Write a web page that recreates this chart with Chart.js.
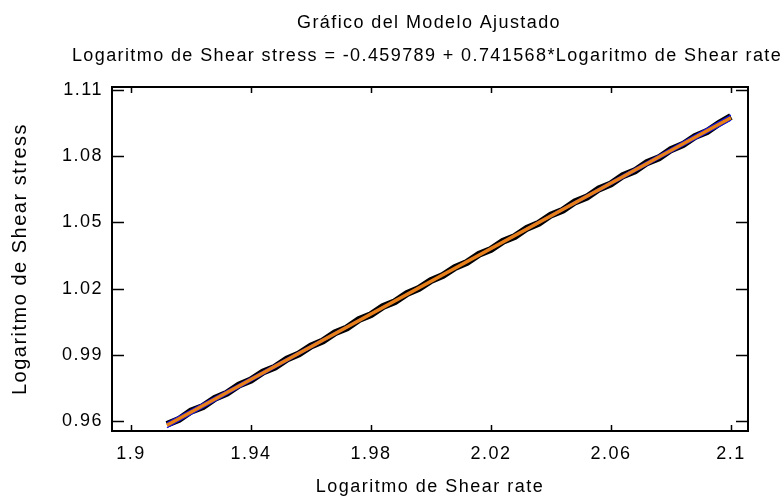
<!DOCTYPE html>
<html><head><meta charset="utf-8">
<script src="https://cdn.jsdelivr.net/npm/chart.js@4/dist/chart.umd.min.js"></script>
<style>html,body{margin:0;padding:0;background:#fff}#wrap{width:784px;height:498px}</style>
</head><body><div id="wrap"><canvas id="c" width="784" height="498"></canvas></div>
<script>
// Observed data (Logaritmo de Shear rate vs Logaritmo de Shear stress)
const shearRate = [1.912,1.916,1.920,1.924,1.928,1.932,1.936,1.940,1.944,1.948,1.952,1.956,1.960,1.964,1.968,1.972,1.976,1.980,1.984,1.988,1.992,1.996,2.000,2.004,2.008,2.012,2.016,2.020,2.024,2.028,2.032,2.036,2.040,2.044,2.048,2.052,2.056,2.060,2.064,2.068,2.072,2.076,2.080,2.084,2.088,2.092,2.096,2.100];
const shearStress = [0.9585,0.9607,0.9645,0.9666,0.9703,0.9726,0.9763,0.9786,0.9822,0.9844,0.9881,0.9904,0.9940,0.9963,1.0000,1.0022,1.0060,1.0082,1.0119,1.0141,1.0178,1.0201,1.0237,1.0260,1.0296,1.0319,1.0356,1.0378,1.0415,1.0437,1.0474,1.0497,1.0534,1.0556,1.0593,1.0615,1.0652,1.0675,1.0712,1.0734,1.0771,1.0793,1.0830,1.0853,1.0889,1.0912,1.0949,1.0980];
// Fitted model line
const fitRate = [1.912, 2.100];
const fitStress = [0.95809, 1.09750];
// Limits around the fitted line
const limitRate = [1.912, 1.959, 2.006, 2.053, 2.100];
const upperStress = [0.95924, 0.99354, 1.02810, 1.06325, 1.09865];
const lowerStress = [0.95694, 0.99234, 1.02750, 1.06205, 1.09635];
// Axes
const xTicks = [1.9, 1.94, 1.98, 2.02, 2.06, 2.1];
const xTickLabels = ['1.9', '1.94', '1.98', '2.02', '2.06', '2.1'];
const yTicks = [0.96, 0.99, 1.02, 1.05, 1.08, 1.11];
const yTickLabels = ['0.96', '0.99', '1.02', '1.05', '1.08', '1.11'];
const titleText = 'Gráfico del Modelo Ajustado';
const subtitleText = 'Logaritmo de Shear stress = -0.459789 + 0.741568*Logaritmo de Shear rate';
const xTitle = 'Logaritmo de Shear rate';
const yTitle = 'Logaritmo de Shear stress';

const FONT = '"Liberation Sans", Arial, sans-serif';
const pts = (xs, ys) => xs.map((x, i) => ({x: x, y: ys[i]}));

const framePlugin = {
  id: 'frame',
  beforeDraw(chart) { chart.ctx.letterSpacing = '1.5px'; },
  afterDraw(chart) {
    const ctx = chart.ctx, a = chart.chartArea;
    const xs = chart.scales.x, ys = chart.scales.y;
    ctx.save();
    ctx.strokeStyle = '#000';
    ctx.lineWidth = 2;
    ctx.strokeRect(a.left, a.top, a.right - a.left, a.bottom - a.top);
    ctx.lineWidth = 1.5;
    ctx.beginPath();
    xTicks.forEach(v => {
      const px = Math.round(xs.getPixelForValue(v)) + 0.5;
      ctx.moveTo(px, a.bottom); ctx.lineTo(px, a.bottom - 6);
      ctx.moveTo(px, a.top); ctx.lineTo(px, a.top + 6);
    });
    yTicks.forEach(v => {
      const py = Math.round(ys.getPixelForValue(v)) + 0.5;
      ctx.moveTo(a.left, py); ctx.lineTo(a.left + 12, py);
      ctx.moveTo(a.right, py); ctx.lineTo(a.right - 12, py);
    });
    ctx.stroke();
    ctx.fillStyle = '#000';
    ctx.font = '18px ' + FONT;
    ctx.textAlign = 'center';
    ctx.textBaseline = 'alphabetic';
    ctx.letterSpacing = '1.4px';
    ctx.fillText(titleText, 429, 28);
    ctx.fillText(subtitleText, 427, 61);
    ctx.restore();
  }
};

new Chart(document.getElementById('c'), {
  type: 'scatter',
  data: {
    datasets: [
      {label: 'Modelo', data: pts(fitRate, fitStress), showLine: true, borderColor: '#E8801A', borderWidth: 3.5, pointRadius: 0, fill: false},
      {label: 'Superior', data: pts(limitRate, upperStress), showLine: true, borderColor: '#1010F0', borderWidth: 1.2, pointRadius: 0, fill: false, tension: 0.3},
      {label: 'Inferior', data: pts(limitRate, lowerStress), showLine: true, borderColor: '#1010F0', borderWidth: 1.2, pointRadius: 0, fill: false, tension: 0.3},
      {label: 'Datos', data: pts(shearRate, shearStress), showLine: true, borderColor: '#000', borderWidth: 7, pointRadius: 0, fill: false}
    ]
  },
  options: {
    responsive: false,
    animation: false,
    devicePixelRatio: 1,
    layout: {padding: {left: 0, top: 87, right: 36, bottom: 0}},
    plugins: {legend: {display: false}, tooltip: {enabled: false}, title: {display: false}},
    scales: {
      x: {
        type: 'linear', min: 1.8937, max: 2.1057,
        afterBuildTicks: s => { s.ticks = xTicks.map(v => ({value: v})); },
        afterFit: s => { s.height = 67; },
        ticks: {callback: (v, i) => xTickLabels[i], font: {family: FONT, size: 18}, color: '#000', padding: 12, maxRotation: 0, autoSkip: false},
        grid: {display: false, drawTicks: false},
        border: {display: false},
        title: {display: true, text: xTitle, font: {family: FONT, size: 18}, color: '#000', padding: {top: 0, bottom: 0}}
      },
      y: {
        type: 'linear', min: 0.9555, max: 1.1114,
        afterBuildTicks: s => { s.ticks = yTicks.map(v => ({value: v})); },
        afterFit: s => { s.width = 112; },
        ticks: {callback: (v, i) => yTickLabels[i], font: {family: FONT, size: 18}, color: '#000', padding: 9, autoSkip: false},
        grid: {display: false, drawTicks: false},
        border: {display: false},
        title: {display: true, text: yTitle, font: {family: FONT, size: 20}, color: '#000', padding: {top: 8, bottom: 0}}
      }
    }
  },
  plugins: [framePlugin]
});
</script></body></html>
